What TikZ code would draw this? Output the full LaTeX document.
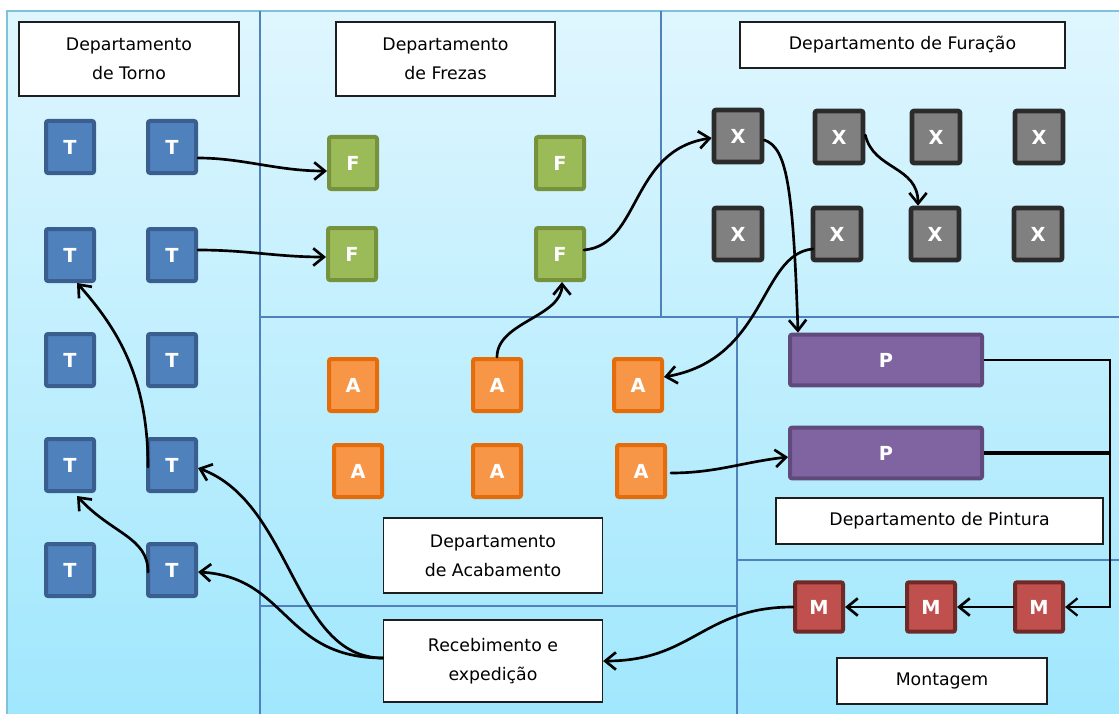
\documentclass[tikz,border=0pt]{standalone}
\usepackage{fontspec}
\setmainfont{DejaVu Sans}
\usetikzlibrary{arrows.meta,calc}

% palette
\definecolor{bgtop}{HTML}{DFF6FE}
\definecolor{bgbot}{HTML}{A0E7FD}
\definecolor{frameline}{HTML}{7FC3DA}
\definecolor{wallblue}{HTML}{4F81BD}
\definecolor{boxline}{HTML}{1E1E1E}
\definecolor{tornofill}{HTML}{4F81BD}
\definecolor{tornoline}{HTML}{3A5F8F}
\definecolor{frezafill}{HTML}{9BBB59}
\definecolor{frezaline}{HTML}{76923C}
\definecolor{furofill}{HTML}{808080}
\definecolor{furoline}{HTML}{2B2B2B}
\definecolor{acabfill}{HTML}{F79646}
\definecolor{acabline}{HTML}{E46C0A}
\definecolor{pintfill}{HTML}{8064A2}
\definecolor{pintline}{HTML}{604A7B}
\definecolor{montfill}{HTML}{C0504D}
\definecolor{montline}{HTML}{6F2A28}

\tikzset{
  title/.style={draw=boxline, line width=1.2pt, fill=white, align=center,
    inner sep=0pt, font=\fontsize{13}{21.5}\selectfont},
  mach/.style={rounded corners=1.5pt, line width=3pt, minimum width=36pt,
    minimum height=39pt, inner sep=0pt, text=white,
    font=\bfseries\fontsize{14.5}{14.5}\selectfont},
  torno/.style={mach, fill=tornofill, draw=tornoline},
  freza/.style={mach, fill=frezafill, draw=frezaline},
  furo/.style={mach, fill=furofill, draw=furoline, line width=3.5pt},
  acab/.style={mach, fill=acabfill, draw=acabline},
  pint/.style={mach, fill=pintfill, draw=pintline, minimum width=144pt, minimum height=38pt},
  mont/.style={mach, fill=montfill, draw=montline, minimum height=37pt},
  wall/.style={draw=wallblue, line width=1.8pt},
  flow/.style={line width=2pt, line cap=round, ->},
  busline/.style={line width=1.7pt},
  heavyline/.style={line width=3pt},
}

\begin{document}
\begin{tikzpicture}[x=0.75pt, y=-0.75pt,
  >={Straight Barb[length=8pt,width=13pt]}]
\path[use as bounding box] (0,0) rectangle (1119,713);
\clip (0,0) rectangle (1119,713);

% floor and department walls
\shade[top color=bgtop, bottom color=bgbot] (7,11) rectangle (1130,720);
\draw[frameline, line width=1.2pt] (7,11) rectangle (1130,720);
\draw[wall] (260,11) -- (260,720);
\draw[wall] (661,11) -- (661,317);
\draw[wall] (260,317) -- (1130,317);
\draw[wall] (737,317) -- (737,720);
\draw[wall] (737,560) -- (1130,560);
\draw[wall] (260,606) -- (737,606);

% department labels
\node[title, minimum width=165.3pt, minimum height=55.8pt] (tTorno) at (129,59) {Departamento\\de Torno};
\node[title, minimum width=164.5pt, minimum height=55.8pt] (tFrezas) at (445.5,59) {Departamento\\de Frezas};
\node[title, minimum width=244pt, minimum height=34.8pt] (tFuracao) at (902.5,45) {Departamento de Furação};
\node[title, minimum width=164pt, minimum height=56.5pt] (tAcab) at (493,555.5) {Departamento\\de Acabamento};
\node[title, minimum width=164pt, minimum height=61.8pt] (Receb) at (493,661) {Recebimento e\\expedição};
\node[title, minimum width=245.5pt, minimum height=34.8pt] (tPintura) at (939.5,521) {Departamento de Pintura};
\node[title, minimum width=157.8pt, minimum height=34.8pt] (tMont) at (942,681) {Montagem};

% lathes
\node[torno] (T11) at (70,147) {T};
\node[torno] (T12) at (172,147) {T};
\node[torno] (T21) at (70,255) {T};
\node[torno] (T22) at (172,255) {T};
\node[torno] (T31) at (70,360) {T};
\node[torno] (T32) at (172,360) {T};
\node[torno] (T41) at (70,465) {T};
\node[torno] (T42) at (172,465) {T};
\node[torno] (T51) at (70,570) {T};
\node[torno] (T52) at (172,570) {T};

% milling machines
\node[freza] (F1) at (353,163) {F};
\node[freza] (F2) at (560,163) {F};
\node[freza] (F3) at (352,254) {F};
\node[freza] (F4) at (560,254) {F};

% drills
\node[furo] (X1) at (738,136) {X};
\node[furo] (X2) at (839,137) {X};
\node[furo] (X3) at (936,137) {X};
\node[furo] (X4) at (1039,137) {X};
\node[furo] (X5) at (738,234) {X};
\node[furo] (X6) at (837,234) {X};
\node[furo] (X7) at (935,234) {X};
\node[furo] (X8) at (1038,234) {X};

% finishing
\node[acab] (A1) at (353,385) {A};
\node[acab] (A2) at (497,385) {A};
\node[acab] (A3) at (638,385) {A};
\node[acab] (A4) at (358,471) {A};
\node[acab] (A5) at (497,471) {A};
\node[acab] (A6) at (641,471) {A};

% painting
\node[pint] (P1) at (886,360) {P};
\node[pint] (P2) at (886,453) {P};

% assembly
\node[mont] (M1) at (819,607) {M};
\node[mont] (M2) at (931,607) {M};
\node[mont] (M3) at (1039,607) {M};

% material flow
\draw[flow] ($(T12.east)+(0,11)$) .. controls +(45,0) and +(-50,0) .. ($(F1.west)+(0,8)$);
\draw[flow] ($(T22.east)+(0,-5)$) .. controls +(50,0) and +(-50,0) .. ($(F3.west)+(0,3)$);
\draw[flow] ($(T42.west)+(2,2)$) .. controls +(0,-90) and +(40,45) .. ($(T21.south)+(7,0)$);
\draw[flow] ($(T52.west)+(2,2)$) .. controls +(0,-35) and +(35,38) .. ($(T41.south)+(7,3)$);
\draw[flow] ($(Receb.west)+(0,-3)$) .. controls +(-90,0) and +(95,35) .. ($(T42.east)+(0,3)$);
\draw[flow] ($(Receb.west)+(0,-3)$) .. controls +(-100,0) and +(90,5) .. ($(T52.east)+(0,2)$);
\draw[flow] (A2.north) .. controls +(0,-35) and +(0,35) .. ($(F4.south)+(2,0)$);
\draw[flow] ($(F4.east)+(-2,-4)$) .. controls +(57,-5) and +(-82,12) .. ($(X1.west)+(0,2)$);
\draw[flow] ($(X1.east)+(0,4)$) .. controls +(22,8) and +(-5,-150) .. ($(P1.north west)+(10,0)$);
\draw[flow] ($(X2.east)+(0,-2)$) .. controls +(8,35) and +(0,-40) .. ($(X7.north)+(-17,0)$);
\draw[flow] ($(X6.west)+(2,15)$) .. controls +(-53,5) and +(103,-18) .. ($(A3.east)+(0,-8)$);
\draw[flow] ($(A6.east)+(4,2)$) .. controls +(45,0) and +(-45,5) .. ($(P2.west)+(0,4)$);

\coordinate (bus) at (1110,360);
\draw[busline, ->] (P1.east) -- (bus) |- (M3.east);
\draw[heavyline] (P2.east) -- (P2.east -| bus);
\draw[flow] (M3.west) -- (M2.east);
\draw[flow] (M2.west) -- (M1.east);
\draw[flow] (M1.west) .. controls +(-90,0) and +(90,0) .. (Receb.east);
\end{tikzpicture}
\end{document}
